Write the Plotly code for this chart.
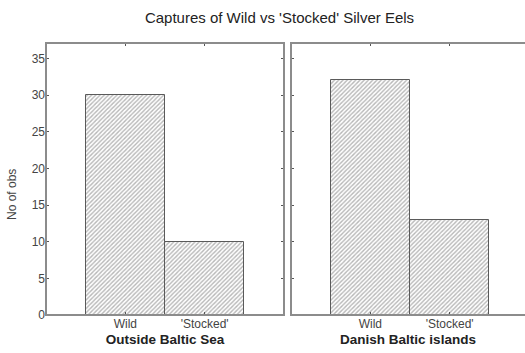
import plotly.graph_objects as go

# Capture counts per origin, for each sampling region
categories = ["Wild", "'Stocked'"]
outside_baltic = [30, 10]
danish_islands = [32, 13]
region_titles = ["Outside Baltic Sea", "Danish Baltic islands"]
y_ticks = [0, 5, 10, 15, 20, 25, 30, 35]

W, H = 525, 353
FONT = "Liberation Sans, Arial, sans-serif"
FRAME = "#8c8c8c"

fig = go.Figure()

bar_style = dict(
    width=1.0,
    marker=dict(
        color="white",
        line=dict(color="#5a5a5a", width=1),
        pattern=dict(shape="/", size=3, solidity=0.45, fgcolor="#707070", bgcolor="white"),
    ),
    showlegend=False,
    hoverinfo="x+y",
)

fig.add_trace(go.Bar(x=categories, y=outside_baltic, xaxis="x", yaxis="y", **bar_style))
fig.add_trace(go.Bar(x=categories, y=danish_islands, xaxis="x2", yaxis="y2", **bar_style))

# panel geometry in pixels
left_x0, left_x1 = 46, 284
right_x0 = 291
unit = (left_x1 - left_x0) / 3.0

common_x = dict(
    showline=False,
    ticks="inside", ticklen=3, tickcolor="#555", mirror="ticks",
    showgrid=False, zeroline=False,
    tickfont=dict(family=FONT, size=12, color="#444"),
    title_font=dict(family=FONT, size=13.5, color="#222"),
    title_standoff=4,
    fixedrange=True,
)
common_y = dict(
    range=[0, 37.1], tickvals=y_ticks,
    showline=False,
    ticks="inside", ticklen=3, tickcolor="#555",
    showgrid=False, zeroline=False,
    tickfont=dict(family=FONT, size=12, color="#444"),
    fixedrange=True,
)

fig.update_layout(
    width=W, height=H,
    margin=dict(l=0, r=0, t=43, b=38),
    paper_bgcolor="white", plot_bgcolor="white",
    bargap=0,
    xaxis=dict(domain=[left_x0 / W, left_x1 / W], anchor="y", range=[-1, 2],
               title=dict(text="<b>" + region_titles[0] + "</b>"), **common_x),
    yaxis=dict(domain=[0, 1], anchor="x", mirror="ticks", **common_y),
    xaxis2=dict(domain=[right_x0 / W, 1], anchor="y2",
                range=[-1, -1 + (W - right_x0) / unit],
                title=dict(text="<b>" + region_titles[1] + "</b>"), **common_x),
    yaxis2=dict(domain=[0, 1], anchor="x2", mirror=False, showticklabels=False, **common_y),
    title=dict(text="Captures of Wild vs 'Stocked' Silver Eels", x=279.5 / W, xanchor="center",
               y=1 - 18 / H, yanchor="middle",
               font=dict(family=FONT, size=15, color="#222")),
)

# panel frames: full box on the left panel; the right panel runs off the page edge
frame_line = dict(color=FRAME, width=2)
fig.add_shape(type="rect", xref="x domain", yref="y domain", x0=0, y0=0, x1=1, y1=1,
              line=frame_line, layer="above")
fig.add_shape(type="path", xref="paper", yref="y2 domain",
              path=f"M 1.01,1 L {right_x0 / W},1 L {right_x0 / W},0 L 1.01,0",
              line=frame_line, layer="above")
# keep the clipped right side of the second panel open
fig.add_shape(type="rect", xref="paper", yref="y2 domain", x0=519 / W, x1=1.01, y0=0.008, y1=0.992,
              fillcolor="white", line=dict(width=0), layer="above")

fig.add_annotation(
    text="No of obs", xref="paper", yref="paper",
    x=12 / W, y=(H - 38 - 195) / (H - 43 - 38), xanchor="center", yanchor="middle",
    textangle=-90, showarrow=False,
    font=dict(family=FONT, size=12, color="#444"),
)

fig.write_html("out.html")
